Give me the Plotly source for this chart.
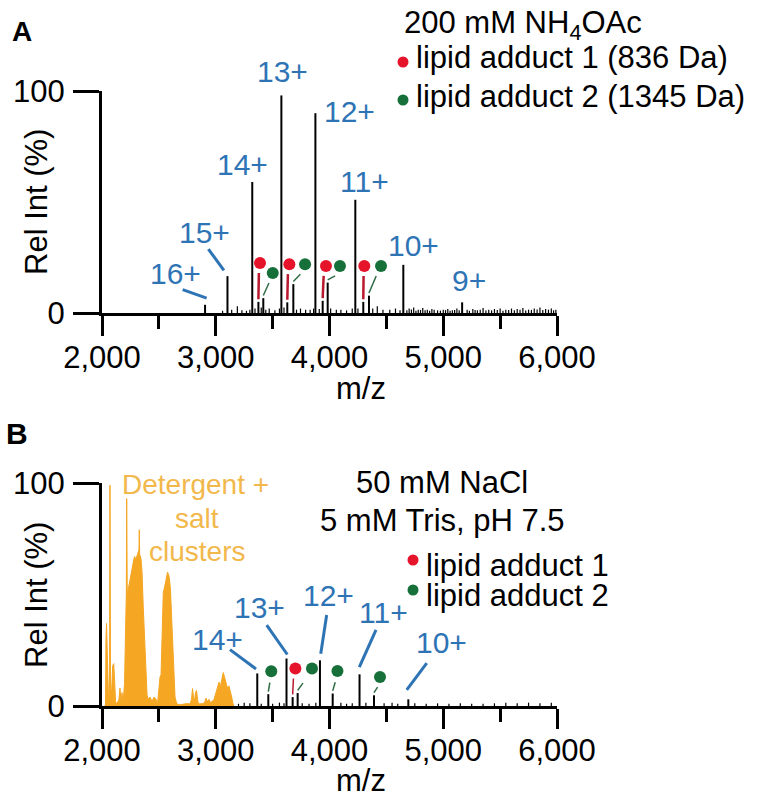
import plotly.graph_objects as go

W, H = 760, 799
FONT = "Liberation Sans, Arial, Helvetica, sans-serif"
BLUE = "#2E74B5"
RED = "#E5142B"
RED_LINE = "#B8192E"
GREEN = "#17703A"
GREEN_LINE = "#2F6B45"
ORANGE = "#F5A623"
ORANGE_TXT = "#F2B84B"

# ---------------- Panel A data ----------------
A_charges = ["16+", "15+", "14+", "13+", "12+", "11+", "10+", "9+"]
A_main_mz = [2906, 3103, 3321, 3577, 3876, 4227, 4649, 5166]
A_main_int = [3.7, 16.6, 59, 98, 90, 51, 21.7, 4.8]
A_label_mz = [2645, 2900, 3233, 3586, 4180, 4312, 4737, 5226]
A_label_int = [17.7, 36.3, 67.0, 109.0, 90.6, 59.4, 30.3, 14.5]
A_leader_x0 = [2709, 2935]
A_leader_y0 = [10.5, 28.8]
A_leader_x1 = [2920, 3072]
A_leader_y1 = [6.7, 19.2]

A_red_peak_mz = [3375, 3629, 3940, 4297]
A_red_peak_int = [5.0, 4.8, 5.5, 5.0]
A_red_mark_mz = [3389, 3647, 3969, 4306]
A_red_mark_int = [22.5, 22.0, 21.2, 21.2]
A_green_peak_mz = [3418, 3682, 3984, 4347]
A_green_peak_int = [6.7, 13.0, 13.7, 7.8]
A_green_mark_mz = [3501, 3785, 4092, 4453]
A_green_mark_int = [18.0, 22.0, 21.2, 21.2]

A_noise_mz = [3060, 3140, 3190, 3230, 3270, 3300, 3345, 3400, 3440, 3470, 3520, 3560,
              3600, 3710, 3745, 3790, 3830, 3860, 3910, 4010, 4060, 4100, 4150, 4200,
              4250, 4380, 4420, 4470, 4530, 4580, 4620, 4700, 4740, 4780, 4820, 4860,
              4900, 4950, 5000, 5040, 5080, 5120, 5210, 5260, 5300, 5350, 5400, 5450,
              5500, 5550, 5600, 5650, 5700, 5750, 5800, 5850, 5900, 5950, 5990,
              4680, 4720, 4760, 4800, 4840, 4880, 4920, 4975, 5020, 5060, 5100, 5140,
              5230, 5280, 5325, 5375, 5425, 5475, 5525, 5575, 5625, 5675, 5725, 5775,
              5825, 5875, 5925, 5970]
A_noise_int = [1.0, 1.5, 3.0, 1.2, 1.0, 1.5, 2.0, 2.5, 1.5, 2.0, 1.2, 2.0,
               2.5, 1.5, 2.0, 1.5, 1.5, 2.0, 1.8, 2.0, 1.5, 1.5, 1.2, 2.0,
               2.0, 2.0, 3.0, 1.5, 1.5, 2.0, 1.2, 2.0, 2.5, 1.5, 2.2, 1.5,
               1.8, 1.2, 1.5, 1.8, 1.2, 2.0, 1.5, 1.8, 1.2, 2.2, 1.5, 1.8,
               2.0, 1.5, 2.0, 1.8, 2.2, 1.5, 2.0, 2.5, 1.8, 2.0, 1.5,
               1.2, 1.6, 1.0, 1.4, 1.2, 1.0, 1.5, 1.1, 1.3, 1.0, 1.4, 1.2,
               1.0, 1.3, 1.5, 1.1, 1.2, 1.4, 1.0, 1.3, 1.2, 1.5, 1.1, 1.4,
               1.6, 1.3, 1.5, 1.2]

# ---------------- Panel B data ----------------
B_charges = ["14+", "13+", "12+", "11+", "10+"]
B_main_mz = [3365, 3622, 3916, 4264, 4693]
B_main_int = [14.6, 21.3, 20.5, 14.2, 3.0]
B_label_mz = [3013, 3382, 3990, 4473, 4986]
B_label_int = [29.9, 44.2, 49.4, 41.9, 28.4]
B_leader_x0 = [3125, 3448, 3975, 4409, 4855]
B_leader_y0 = [25.3, 36.3, 40.8, 34.1, 19.2]
B_leader_x1 = [3354, 3629, 3923, 4262, 4679]
B_leader_y1 = [16.6, 23.1, 23.4, 17.4, 7.2]

B_red_peak_mz = [3676]
B_red_peak_int = [4.0]
B_red_mark_mz = [3700]
B_red_mark_int = [16.8]
B_green_peak_mz = [3462, 3720, 4028, 4391]
B_green_peak_int = [5.3, 5.8, 5.6, 4.8]
B_green_mark_mz = [3488, 3846, 4070, 4444]
B_green_mark_int = [15.6, 16.8, 15.7, 13.0]

B_noise_mz = [3200, 3250, 3300, 3400, 3500, 3560, 3600, 3760, 3820, 3880, 4100, 4150,
              4200, 4320, 4480, 4550, 4600, 4750, 4850, 4950, 5050, 5150, 5250, 5350,
              5450, 5550, 5650, 5750, 5850, 5950]
B_noise_int = [1.0, 1.5, 1.2, 1.0, 1.0, 1.5, 1.2, 1.2, 1.0, 1.5, 1.5, 1.0,
               1.2, 1.5, 1.2, 1.5, 1.0, 1.2, 1.0, 1.2, 1.0, 1.2, 1.0, 1.0,
               1.2, 1.5, 1.2, 1.5, 1.2, 1.5]

# detergent + salt clusters (profile)
B_cluster_mz = [2018, 2031, 2035, 2040, 2048, 2057, 2066, 2070, 2075, 2084, 2094, 2103,
                2112, 2119, 2132, 2149, 2158, 2167, 2176, 2185, 2198, 2207, 2214, 2217,
                2222, 2233, 2246, 2259, 2273, 2286, 2299, 2312, 2325, 2328, 2331, 2343,
                2352, 2363, 2374, 2387, 2396, 2404, 2422, 2440, 2457, 2475, 2488, 2501,
                2510, 2519, 2527, 2539, 2549, 2558, 2569, 2576, 2585, 2593, 2602, 2613,
                2622, 2633, 2642, 2657, 2686, 2730, 2774, 2787, 2796, 2804, 2813, 2822,
                2831, 2840, 2848, 2888, 2905, 2914, 2927, 2941, 2954, 2967, 2985, 3002,
                3015, 3029, 3042, 3055, 3066, 3077, 3090, 3103, 3116, 3130, 3140, 3152, 3160]
B_cluster_int = [0, 0, 30, 37, 20, 4, 5, 99, 8, 6, 18, 19,
                 10, 2, 1, 3, 8, 2, 6, 1, 10, 40, 51, 93,
                 50, 53, 56, 60, 64, 67, 66, 68, 70, 79, 68, 66,
                 60, 44, 30, 14, 5, 3, 4, 2, 4, 3, 1, 8,
                 13, 14, 30, 51, 53, 55, 58, 60, 59, 57, 52, 38,
                 22, 12, 4, 1, 0.5, 1, 1, 3, 7.8, 4, 2, 6,
                 7, 3, 1, 1, 2, 3.5, 2, 3, 1.5, 2, 3, 6,
                 8, 10.7, 9, 13, 15, 13, 10, 8, 9, 5, 4, 1, 0]

Y_MAX = 100.0


def px(x):
    return x / W


def py(y):
    return 1 - y / H


def sticks(mz, inten):
    xs, ys = [], []
    for m, h in zip(mz, inten):
        xs += [m, m, None]
        ys += [0, h, None]
    return xs, ys


def connectors(pk_mz, pk_int, mk_mz, mk_int, frac):
    xs, ys = [], []
    for pm, ph, mm, mh in zip(pk_mz, pk_int, mk_mz, mk_int):
        xs += [pm, pm + frac * (mm - pm), None]
        ys += [ph + 1.2, mh - 4.5, None]
    return xs, ys


fig = go.Figure()


def add_panel(xa, ya, main_mz, main_int, noise_mz, noise_int,
              rpk_mz, rpk_int, rmk_mz, rmk_int,
              gpk_mz, gpk_int, gmk_mz, gmk_int, dashed):
    xs, ys = sticks(noise_mz, noise_int)
    fig.add_trace(go.Scatter(x=xs, y=ys, mode="lines", xaxis=xa, yaxis=ya,
                             line=dict(color="black", width=1.2), hoverinfo="skip"))
    xs, ys = sticks(rpk_mz + gpk_mz, rpk_int + gpk_int)
    fig.add_trace(go.Scatter(x=xs, y=ys, mode="lines", xaxis=xa, yaxis=ya,
                             line=dict(color="black", width=2), hoverinfo="skip"))
    xs, ys = sticks(main_mz, main_int)
    fig.add_trace(go.Scatter(x=xs, y=ys, mode="lines", xaxis=xa, yaxis=ya,
                             line=dict(color="black", width=2), hoverinfo="skip"))
    xs, ys = connectors(rpk_mz, rpk_int, rmk_mz, rmk_int, 0.3)
    fig.add_trace(go.Scatter(x=xs, y=ys, mode="lines", xaxis=xa, yaxis=ya,
                             line=dict(color=RED_LINE, width=1.5 if dashed else 2.5)))
    xs, ys = connectors(gpk_mz, gpk_int, gmk_mz, gmk_int, 0.6)
    fig.add_trace(go.Scatter(x=xs, y=ys, mode="lines", xaxis=xa, yaxis=ya,
                             line=dict(color=GREEN_LINE, width=1.5,
                                       dash="dash" if dashed else "solid")))
    fig.add_trace(go.Scatter(x=rmk_mz, y=rmk_int, mode="markers", xaxis=xa, yaxis=ya,
                             marker=dict(color=RED, size=12), cliponaxis=False))
    fig.add_trace(go.Scatter(x=gmk_mz, y=gmk_int, mode="markers", xaxis=xa, yaxis=ya,
                             marker=dict(color=GREEN, size=12), cliponaxis=False))


# orange cluster in panel B (drawn first)
fig.add_trace(go.Scatter(x=B_cluster_mz, y=B_cluster_int, mode="lines", xaxis="x2", yaxis="y2",
                         fill="tozeroy", fillcolor=ORANGE,
                         line=dict(color=ORANGE, width=1), hoverinfo="skip"))

add_panel("x", "y", A_main_mz, A_main_int, A_noise_mz, A_noise_int,
          A_red_peak_mz, A_red_peak_int, A_red_mark_mz, A_red_mark_int,
          A_green_peak_mz, A_green_peak_int, A_green_mark_mz, A_green_mark_int, False)
add_panel("x2", "y2", B_main_mz, B_main_int, B_noise_mz, B_noise_int,
          B_red_peak_mz, B_red_peak_int, B_red_mark_mz, B_red_mark_int,
          B_green_peak_mz, B_green_peak_int, B_green_mark_mz, B_green_mark_int, True)

# leader lines for charge-state labels
for xa, ya, x0s, y0s, x1s, y1s in [("x", "y", A_leader_x0, A_leader_y0, A_leader_x1, A_leader_y1),
                                   ("x2", "y2", B_leader_x0, B_leader_y0, B_leader_x1, B_leader_y1)]:
    xs, ys = [], []
    for a, b, c, d in zip(x0s, y0s, x1s, y1s):
        xs += [a, c, None]
        ys += [b, d, None]
    fig.add_trace(go.Scatter(x=xs, y=ys, mode="lines", xaxis=xa, yaxis=ya,
                             line=dict(color=BLUE, width=3), hoverinfo="skip"))

annotations = []
for lab, x, y in zip(A_charges, A_label_mz, A_label_int):
    annotations.append(dict(text=lab, x=x, y=y / Y_MAX, xref="x", yref="y domain",
                            showarrow=False, xanchor="center", yanchor="middle",
                            font=dict(size=30, color=BLUE, family=FONT)))
for lab, x, y in zip(B_charges, B_label_mz, B_label_int):
    annotations.append(dict(text=lab, x=x, y=y / Y_MAX, xref="x2", yref="y2 domain",
                            showarrow=False, xanchor="center", yanchor="middle",
                            font=dict(size=30, color=BLUE, family=FONT)))


def ptext(text, x, y, size=31, color="black", xanchor="center", bold=False, angle=0):
    annotations.append(dict(text=("<b>%s</b>" % text) if bold else text,
                            x=px(x), y=py(y), xref="paper", yref="paper",
                            showarrow=False, xanchor=xanchor, yanchor="middle",
                            textangle=angle,
                            font=dict(size=size, color=color, family=FONT)))


ptext("A", 22, 32, size=28, bold=True)
ptext("B", 17, 433, size=30, bold=True)
ptext("200 mM NH<sub>4</sub>OAc", 523, 25)
ptext("lipid adduct 1 (836 Da)", 414, 58, xanchor="left")
ptext("lipid adduct 2 (1345 Da)", 414, 97, xanchor="left")
ptext("50 mM NaCl", 442, 482)
ptext("5 mM Tris, pH 7.5", 442, 520)
ptext("lipid adduct 1", 424, 565, xanchor="left")
ptext("lipid adduct 2", 424, 595, xanchor="left")
ptext("Detergent +", 195, 485, size=28, color=ORANGE_TXT)
ptext("salt", 197, 518, size=28, color=ORANGE_TXT)
ptext("clusters", 197, 551, size=28, color=ORANGE_TXT)
ptext("Rel Int (%)", 36, 202, angle=-90)
ptext("Rel Int (%)", 36, 595, angle=-90)
ptext("m/z", 361, 388)
ptext("m/z", 361, 780)

shapes = []
for (cx, cy, col) in [(403, 62, RED), (403, 100, GREEN), (413, 560, RED), (413, 590, GREEN)]:
    r = 5.5
    shapes.append(dict(type="circle", xref="paper", yref="paper",
                       x0=px(cx - r), x1=px(cx + r), y0=py(cy + r), y1=py(cy - r),
                       fillcolor=col, line=dict(width=0)))

xdom = [102 / W, 557 / W]
common_x = dict(range=[2000, 6000], showline=True, linewidth=3, linecolor="black",
                ticks="outside", ticklen=20, tickwidth=3, tickcolor="black",
                tick0=2000, dtick=1000, tickformat=",", showgrid=False, zeroline=False,
                minor=dict(ticks="outside", ticklen=13, tickwidth=3, tickcolor="black",
                           tick0=2000, dtick=500, showgrid=False),
                tickfont=dict(size=31, color="black", family=FONT), domain=xdom,
                fixedrange=True, automargin=False, ticklabelstandoff=-5)
common_y = dict(range=[0, Y_MAX], showline=True, linewidth=3, linecolor="black",
                ticks="outside", ticklen=26, tickwidth=3, tickcolor="black",
                tickvals=[0, 100], ticktext=["0", "100"], showgrid=False, zeroline=False,
                tickfont=dict(size=31, color="black", family=FONT), fixedrange=True,
                automargin=False, ticklabelstandoff=2)

fig.update_layout(
    template="none",
    width=W, height=H, margin=dict(l=0, r=0, t=0, b=0, pad=0, autoexpand=False),
    paper_bgcolor="white", plot_bgcolor="white", showlegend=False,
    xaxis=dict(common_x, anchor="y"),
    yaxis=dict(common_y, anchor="x", domain=[py(313), py(91)]),
    xaxis2=dict(common_x, anchor="y2"),
    yaxis2=dict(common_y, anchor="x2", domain=[py(706), py(483)]),
    annotations=annotations, shapes=shapes,
    font=dict(family=FONT),
)

fig.write_html("out.html")
